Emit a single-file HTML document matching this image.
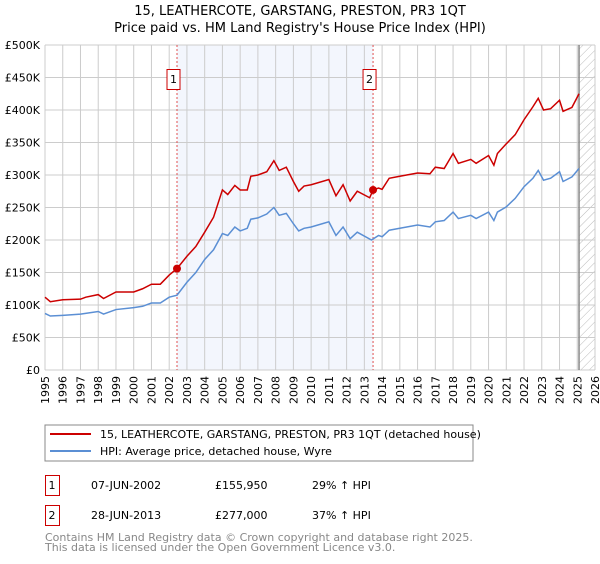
<!DOCTYPE html>
<html><head><meta charset="utf-8"><style>
body{margin:0;background:#fff;font-family:"DejaVu Sans","Liberation Sans",sans-serif;}
svg text{font-family:"DejaVu Sans","Liberation Sans",sans-serif;}
</style></head><body>
<svg id="c" width="600" height="560" xmlns="http://www.w3.org/2000/svg">
<defs><pattern id="hatch" width="6" height="6" patternUnits="userSpaceOnUse" patternTransform="rotate(45)"><line x1="0" y1="0" x2="0" y2="6" stroke="#bbb" stroke-width="1"/></pattern></defs>
<text x="300" y="15" text-anchor="middle" font-size="13" fill="#000">15, LEATHERCOTE, GARSTANG, PRESTON, PR3 1QT</text>
<text x="300" y="32" text-anchor="middle" font-size="13" fill="#000">Price paid vs. HM Land Registry's House Price Index (HPI)</text>
<g id="plot"></g>
<rect x="45" y="425" width="428" height="36" fill="#fff" stroke="#888"/>
<line x1="50" y1="434" x2="91" y2="434" stroke="#cc0000" stroke-width="2"/>
<text x="100" y="438" font-size="11">15, LEATHERCOTE, GARSTANG, PRESTON, PR3 1QT (detached house)</text>
<line x1="50" y1="451" x2="91" y2="451" stroke="#5b8fd4" stroke-width="2"/>
<text x="100" y="455" font-size="11">HPI: Average price, detached house, Wyre</text>
<g>
<rect x="45.5" y="475.5" width="14" height="20" fill="none" stroke="#cc0000"/>
<text x="52" y="489" font-size="11" text-anchor="middle">1</text>
<text x="91" y="489" font-size="11">07-JUN-2002</text>
<text x="215" y="489" font-size="11">£155,950</text>
<text x="312" y="489" font-size="11">29% ↑ HPI</text></g>
<g>
<rect x="45.5" y="505.5" width="14" height="20" fill="none" stroke="#cc0000"/>
<text x="52" y="519" font-size="11" text-anchor="middle">2</text>
<text x="91" y="519" font-size="11">28-JUN-2013</text>
<text x="215" y="519" font-size="11">£277,000</text>
<text x="312" y="519" font-size="11">37% ↑ HPI</text></g>
<text x="45" y="541" font-size="11" fill="#888">Contains HM Land Registry data © Crown copyright and database right 2025.</text>
<text x="45" y="551" font-size="11" fill="#888">This data is licensed under the Open Government Licence v3.0.</text>
</svg>
<script>
const yTicks=[0,50,100,150,200,250,300,350,400,450,500];
const yTickLabels=["£0","£50K","£100K","£150K","£200K","£250K","£300K","£350K","£400K","£450K","£500K"];
const xYears=[1995,1996,1997,1998,1999,2000,2001,2002,2003,2004,2005,2006,2007,2008,2009,2010,2011,2012,2013,2014,2015,2016,2017,2018,2019,2020,2021,2022,2023,2024,2025,2026];
const hpiT=[1995,1995.3,1996,1997,1998,1998.3,1999,2000,2000.5,2001,2001.5,2002,2002.44,2003,2003.5,2004,2004.5,2005,2005.3,2005.7,2006,2006.4,2006.6,2007,2007.5,2007.9,2008.2,2008.6,2009,2009.3,2009.6,2010,2011,2011.4,2011.8,2012.2,2012.6,2013.4,2013.8,2014,2014.4,2015,2016,2016.7,2017,2017.5,2018,2018.3,2019,2019.3,2020,2020.3,2020.5,2021,2021.5,2022,2022.5,2022.8,2023.1,2023.5,2024,2024.2,2024.7,2025.1];
const hpiV=[87,83,84,86,90,86,93,96,98,103,103,112,115,135,150,170,185,210,207,220,214,218,232,234,240,250,238,241,225,214,218,220,228,207,220,202,212,200,207,205,215,218,223,220,228,230,243,233,238,233,243,230,243,251,264,282,295,307,292,295,305,290,297,310];
const priceT=[1995,1995.3,1996,1997,1997.3,1998,1998.3,1999,2000,2000.5,2001,2001.5,2002,2002.44,2003,2003.5,2004,2004.5,2005,2005.3,2005.7,2006,2006.4,2006.6,2007,2007.5,2007.9,2008.2,2008.6,2009,2009.3,2009.6,2010,2011,2011.4,2011.8,2012.2,2012.6,2013.3,2013.49,2013.8,2014,2014.4,2015,2016,2016.7,2017,2017.5,2018,2018.3,2019,2019.3,2020,2020.3,2020.5,2021,2021.5,2022,2022.5,2022.8,2023.1,2023.5,2024,2024.2,2024.7,2025.1];
const priceV=[112,105,108,109,112,116,110,120,120,125,132,132,146,156,175,190,212,235,277,270,284,277,277,298,300,305,322,307,312,290,275,283,285,293,268,285,260,275,265,277,280,278,295,298,303,302,312,310,333,318,324,318,330,315,333,348,362,385,405,418,400,402,415,398,404,425];
const salesT=[2002.44,2013.49];
const salesV=[155.95,277];
const salesLabel=["1","2"];
const NS="http://www.w3.org/2000/svg";
const X0=45,X1=595,Y0=370,Y1=45;
const xs=t=>X0+(t-1995)/(2026-1995)*(X1-X0);
const ys=v=>Y0-v/500*(Y0-Y1);
const g=document.getElementById('plot');
function mk(tag,a){const e=document.createElementNS(NS,tag);for(const k in a)e.setAttribute(k,a[k]);g.appendChild(e);return e;}
let e=mk('rect',{x:xs(salesT[0]),y:Y1,width:xs(salesT[1])-xs(salesT[0]),height:Y0-Y1,fill:'#eef2fc',opacity:0.7});


e=mk('rect',{x:xs(2025.1),y:Y1,width:X1-xs(2025.1),height:Y0-Y1,fill:'url(#hatch)'});


xYears.forEach(y=>{const l=mk('line',{x1:xs(y),x2:xs(y),y1:Y1,y2:Y0,stroke:'#ccc'});


const t=mk('text',{x:0,y:0,'font-size':11,'text-anchor':'end',transform:`translate(${xs(y)+4},${Y0+6}) rotate(-90)`});t.textContent=y;

});
yTicks.forEach((v,i)=>{const l=mk('line',{x1:X0,x2:X1,y1:ys(v),y2:ys(v),stroke:'#ccc'});


const t=mk('text',{x:40,y:ys(v)+4,'font-size':11,'text-anchor':'end'});t.textContent=yTickLabels[i];

});
e=mk('line',{x1:xs(2025.1),x2:xs(2025.1),y1:Y1,y2:Y0,stroke:'#888','stroke-width':1.5});


salesT.forEach((t,i)=>{const l=mk('line',{x1:xs(t),x2:xs(t),y1:Y1,y2:Y0,stroke:'#e05050','stroke-dasharray':'2,2'});


const r=mk('rect',{x:xs(t)-10,y:69.5,width:13,height:20,fill:'#fff',stroke:'#cc0000'});


const tx=mk('text',{x:xs(t)-3.5,y:83,'font-size':11,'text-anchor':'middle'});tx.textContent=salesLabel[i];

});
e=mk('polyline',{points:hpiT.map((t,i)=>xs(t)+','+ys(hpiV[i])).join(' '),fill:'none',stroke:'#5b8fd4','stroke-width':1.5});


e=mk('polyline',{points:priceT.map((t,i)=>xs(t)+','+ys(priceV[i])).join(' '),fill:'none',stroke:'#cc0000','stroke-width':1.5});


salesT.forEach((t,i)=>{const c=mk('circle',{cx:xs(t),cy:ys(salesV[i]),r:4,fill:'#cc0000'});

});
</script>
</body></html>
